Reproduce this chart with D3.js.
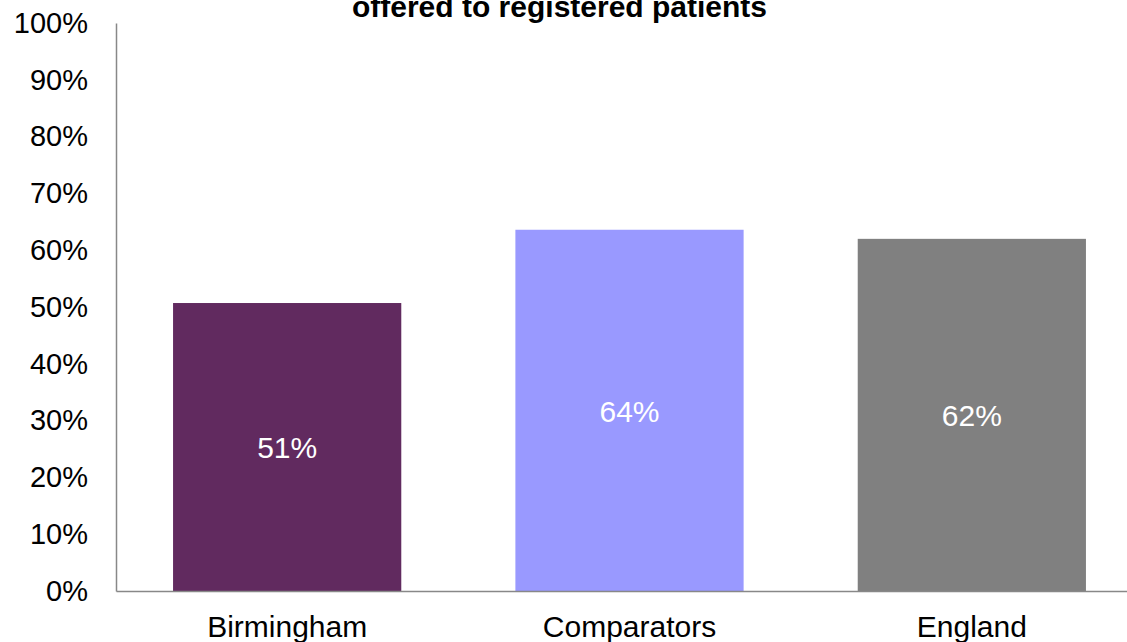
<!DOCTYPE html>
<html>
<head>
<meta charset="utf-8">
<script src="https://cdn.jsdelivr.net/npm/d3@7/dist/d3.min.js"></script>
<style>
html, body { margin: 0; padding: 0; background: #fff; }
svg { display: block; }
text { font-family: "Liberation Sans", Arial, sans-serif; }
</style>
</head>
<body>
<script>
const categories = ["Birmingham", "Comparators", "England"];
const values = [0.507, 0.636, 0.620];
const valueLabels = ["51%", "64%", "62%"];
const colors = ["#612A5F", "#9999FF", "#808080"];
const yTicks = [0, 0.1, 0.2, 0.3, 0.4, 0.5, 0.6, 0.7, 0.8, 0.9, 1.0];
const titleLines = ["offered to registered patients"];

const W = 1127, H = 642;
const svg = d3.select("body").append("svg").attr("width", W).attr("height", H);

const x0 = 116, xEnd = 1143, yTop = 23, yBottom = 591;
const x = d3.scaleBand().domain(categories).range([x0, xEnd]).paddingInner(1/3).paddingOuter(1/6);
const y = d3.scaleLinear().domain([0, 1]).range([yBottom, yTop]);

// bars
svg.selectAll("rect.bar").data(categories).enter().append("rect")
  .attr("class", "bar")
  .attr("x", d => x(d))
  .attr("width", x.bandwidth())
  .attr("y", (d, i) => y(values[i]))
  .attr("height", (d, i) => y(0) - y(values[i]))
  .attr("fill", (d, i) => colors[i]);

// value labels
svg.selectAll("text.val").data(categories).enter().append("text")
  .attr("class", "val")
  .attr("x", d => x(d) + x.bandwidth() / 2)
  .attr("y", (d, i) => (y(values[i]) + y(0)) / 2)
  .attr("dy", "0.38em")
  .attr("text-anchor", "middle")
  .attr("fill", "#fff")
  .attr("font-size", 30)
  .text((d, i) => valueLabels[i]);

// y axis
const yAxis = d3.axisLeft(y).tickValues(yTicks).tickFormat(d3.format(".0%")).tickSize(0).tickPadding(28);
const gy = svg.append("g").attr("transform", `translate(${x0},0)`).call(yAxis);
gy.select(".domain").attr("stroke", "#888").attr("stroke-width", 1.5);
gy.selectAll("text").attr("font-size", 29).attr("fill", "#000")
  .attr("font-family", "'Liberation Sans', Arial, sans-serif");

// x axis
const xAxis = d3.axisBottom(x).tickSize(0).tickPadding(25);
const gx = svg.append("g").attr("transform", `translate(0,${yBottom})`).call(xAxis);
gx.select(".domain").attr("stroke", "#888").attr("stroke-width", 1.5);
gx.selectAll("text").attr("font-size", 30).attr("fill", "#000")
  .attr("font-family", "'Liberation Sans', Arial, sans-serif");

// title (top part clipped in the original)
svg.selectAll("text.title").data(titleLines).enter().append("text")
  .attr("class", "title")
  .attr("x", 559.5)
  .attr("y", (d, i) => 17 - (titleLines.length - 1 - i) * 34)
  .attr("text-anchor", "middle")
  .attr("font-weight", "bold")
  .attr("font-size", 30)
  .attr("fill", "#000")
  .text(d => d);
</script>
</body>
</html>
